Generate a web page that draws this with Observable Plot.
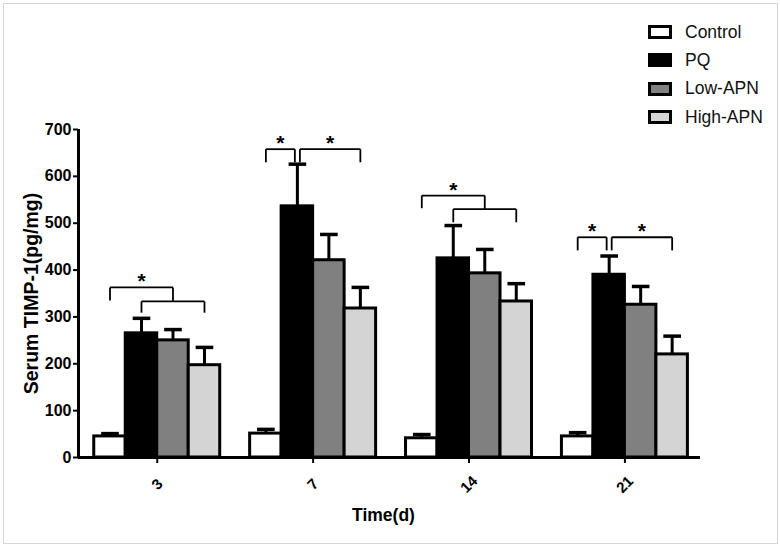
<!DOCTYPE html>
<html>
<head>
<meta charset="utf-8">
<script src="https://cdn.jsdelivr.net/npm/d3@7"></script>
<script src="https://cdn.jsdelivr.net/npm/@observablehq/plot@0.6"></script>
<style>
  html, body { margin: 0; padding: 0; background: #fff; }
  #fig { position: relative; width: 780px; height: 546px; font-family: "Liberation Sans", Arial, sans-serif; }
  #border { position: absolute; left: 3px; top: 3px; width: 773px; height: 539px; border: 1px solid #d6d6d6; pointer-events: none; }
  #legend { position: absolute; left: 648px; top: 18px; }
  .item { display: flex; align-items: center; height: 28.3px; }
  .sw { width: 24px; height: 14px; box-sizing: border-box; border: 3px solid #000; margin-right: 13px; }
  .lab { font-size: 17.5px; color: #111; }
  svg { display: block; }
</style>
</head>
<body>
<div id="fig"><div id="border"></div><div id="legend"></div></div>
<script>
// ---- data ----
const times = ["3", "7", "14", "21"];
const groups = ["Control", "PQ", "Low-APN", "High-APN"];
const colors = ["#ffffff", "#000000", "#808080", "#d4d4d4"];
const controlMean = [45, 51, 41, 45];
const pqMean = [265, 536, 425, 390];
const lowMean = [250, 421, 393, 326];
const highMean = [197, 318, 333, 220];
const controlErr = [6, 9, 8, 8];
const pqErr = [32, 90, 70, 40];
const lowErr = [23, 55, 51, 39];
const highErr = [38, 45, 38, 39];
const yTicks = [0, 100, 200, 300, 400, 500, 600, 700];
const yLabel = "Serum TIMP-1(pg/mg)";
const xLabel = "Time(d)";
// significance brackets
const bracketTime = ["3", "3", "7", "7", "14", "14", "21", "21"];
const bracketFrom = ["Control", "PQ", "Control", "PQ", "Control", "PQ", "Control", "PQ"];
const bracketTo = ["Low-APN", "High-APN", "PQ", "High-APN", "Low-APN", "High-APN", "PQ", "High-APN"];
const bracketTop = [363, 333, 658, 658, 559, 530, 470, 470];
const bracketLeftEnd = [335, 309, 630, 630, 532, 502, 442, 442];
const bracketRightEnd = [333, 309, 630, 630, 530, 502, 442, 442];
const bracketStar = [true, false, true, true, true, false, true, true];

// ---- build ----
const means = [controlMean, pqMean, lowMean, highMean];
const errs = [controlErr, pqErr, lowErr, highErr];
const step = 4.95; // group spacing in bar widths
const rows = [];
times.forEach((t, i) => groups.forEach((g, j) => {
  rows.push({time: t, group: g, x1: i * step + j, x2: i * step + j + 1, mean: means[j][i], err: errs[j][i]});
}));
const centers = times.map((t, i) => i * step + 2);
const barCenter = (t, g) => times.indexOf(t) * step + groups.indexOf(g) + 0.5;

const segs = [];
const stars = [];
bracketTime.forEach((t, k) => {
  let a = barCenter(t, bracketFrom[k]);
  let b = barCenter(t, bracketTo[k]);
  // nudge brackets that meet at the same bar and height
  bracketTime.forEach((t2, m) => {
    if (m !== k && t2 === t && bracketTop[m] === bracketTop[k]) {
      if (bracketFrom[m] === bracketTo[k]) b -= 0.08;
      if (bracketTo[m] === bracketFrom[k]) a += 0.08;
    }
  });
  const top = bracketTop[k];
  segs.push({x1: a, x2: b, y1: top, y2: top});
  segs.push({x1: a, x2: a, y1: top, y2: bracketLeftEnd[k]});
  segs.push({x1: b, x2: b, y1: top, y2: bracketRightEnd[k]});
  if (bracketStar[k]) stars.push({x: (a + b) / 2, y: top});
});

const xmin = -0.5, xmax = 3 * step + 4 + 0.4;

const chart = Plot.plot({
  width: 780,
  height: 546,
  marginLeft: 78,
  marginRight: 80,
  marginTop: 129,
  marginBottom: 89,
  style: {fontFamily: "Liberation Sans, Arial, sans-serif", color: "#000", background: "#fff"},
  x: {domain: [xmin, xmax], axis: null},
  y: {domain: [0, 700], axis: null},
  color: {type: "ordinal", domain: groups, range: colors},
  marks: [
    Plot.rectY(rows, {x1: "x1", x2: "x2", y: "mean", fill: "group", stroke: "#000", strokeWidth: 3}),
    Plot.ruleX(rows, {x: d => (d.x1 + d.x2) / 2, y1: "mean", y2: d => d.mean + d.err, stroke: "#000", strokeWidth: 3}),
    Plot.link(rows, {x1: d => (d.x1 + d.x2) / 2 - 0.28, x2: d => (d.x1 + d.x2) / 2 + 0.28, y1: d => d.mean + d.err, y2: d => d.mean + d.err, stroke: "#000", strokeWidth: 3.5}),
    Plot.link(segs, {x1: "x1", x2: "x2", y1: "y1", y2: "y2", stroke: "#000", strokeWidth: 1.8}),
    Plot.text(stars, {x: "x", y: "y", text: () => "*", lineAnchor: "bottom", dy: 1, fontSize: 21, fontWeight: "bold", fill: "#000"}),
    Plot.axisY({ticks: yTicks, tickSize: 5, tickPadding: 2, fontSize: 16, fontWeight: "bold", strokeWidth: 2, label: null}),
    Plot.axisX({ticks: centers, tickSize: 6, strokeWidth: 2, tickFormat: () => "", label: null}),
    Plot.ruleX([xmin], {y1: 0, y2: 700, stroke: "#000", strokeWidth: 3}),
    Plot.ruleY([0], {stroke: "#000", strokeWidth: 3}),
    Plot.text(times, {x: (d, i) => centers[i], frameAnchor: "bottom", dy: 27, rotate: -45, textAnchor: "middle", lineAnchor: "middle", fontSize: 15, fontWeight: "bold", fill: "#000"}),
    Plot.text([yLabel], {frameAnchor: "left", dx: -47, rotate: -90, textAnchor: "middle", lineAnchor: "middle", fontSize: 19.5, fontWeight: "bold", fill: "#000"}),
    Plot.text([xLabel], {frameAnchor: "bottom", dx: -6, dy: 58, textAnchor: "middle", lineAnchor: "middle", fontSize: 17.5, fontWeight: "bold", fill: "#000"})
  ]
});
document.getElementById("fig").prepend(chart);

const legend = document.getElementById("legend");
groups.forEach((g, i) => {
  const item = document.createElement("div");
  item.className = "item";
  const sw = document.createElement("div");
  sw.className = "sw";
  sw.style.background = colors[i];
  const lab = document.createElement("span");
  lab.className = "lab";
  lab.textContent = g;
  item.appendChild(sw);
  item.appendChild(lab);
  legend.appendChild(item);
});
</script>
</body>
</html>
